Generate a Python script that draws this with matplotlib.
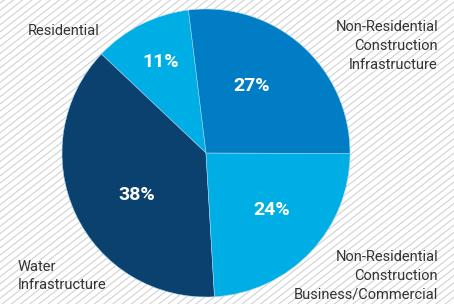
import numpy as np
import matplotlib.pyplot as plt

# slices, drawn counterclockwise starting near the top
labels = ["Residential", "Water\nInfrastructure",
          "Non-Residential\nConstruction\nBusiness/Commercial",
          "Non-Residential\nConstruction\nInfrastructure"]
shares = [11, 38, 24, 27]
colors = ["#00AEE6", "#0A416E", "#00AEE6", "#007DC5"]

W, H = 454, 304
fig = plt.figure(figsize=(W / 100, H / 100), dpi=100)
fam = ["Liberation Sans Narrow", "Roboto", "DejaVu Sans"]

# hatched background
bg = fig.add_axes([0, 0, 1, 1])
bg.set_xlim(0, W)
bg.set_ylim(H, 0)
bg.axis("off")
slope = 0.78
xs = np.array([0, W])
for c in np.arange(-40, H + W * slope + 40, 7.2):
    bg.plot(xs, c - slope * xs, color="#cccccc", lw=0.7)

# pie
cx, cy, r = 206, 153, 144
ax = fig.add_axes([(cx - r) / W, (H - cy - r) / H, 2 * r / W, 2 * r / H])
ax.pie(shares, colors=colors, startangle=97, counterclock=True,
       wedgeprops=dict(edgecolor="#9fd6f0", linewidth=0.4))
ax.set_xlim(-1, 1)
ax.set_ylim(-1, 1)
ax.set_aspect("auto")

# overlay for text
top = fig.add_axes([0, 0, 1, 1])
top.set_xlim(0, W)
top.set_ylim(H, 0)
top.axis("off")

# percentage labels
pct_pos = [(161, 62), (137, 195), (272, 210), (252, 86)]
for v, (x, y) in zip(shares, pct_pos):
    top.text(x, y, f"{v}%", color="white", fontsize=14, fontweight="bold",
             ha="center", va="center", family=fam)

# category labels
lab_pos = [(28, 31, "left"), (18, 276, "left"), (438, 276, "right"), (438, 46, "right")]
for t, (x, y, ha) in zip(labels, lab_pos):
    top.text(x, y, t, color="#333333", fontsize=10.5, ha=ha, va="center",
             multialignment=ha, linespacing=1.45, family=fam)

fig.savefig("out.png", dpi=100)
